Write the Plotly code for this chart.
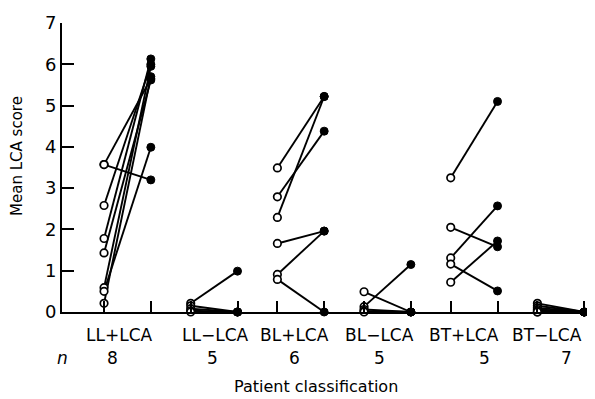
import plotly.graph_objects as go

# ---------------- data ----------------
categories = ["LL+LCA", "LL\u2212LCA", "BL+LCA", "BL\u2212LCA", "BT+LCA", "BT\u2212LCA"]
n_values = [8, 5, 6, 5, 5, 7]

ll_pos_before = [3.57, 3.57, 2.58, 1.78, 1.43, 0.59, 0.50, 0.21]
ll_pos_after = [3.20, 5.65, 6.00, 6.13, 5.62, 5.95, 3.99, 5.70]

ll_neg_before = [0.21, 0.15, 0.08, 0.03, 0.0]
ll_neg_after = [0.99, 0.0, 0.0, 0.0, 0.0]

bl_pos_before = [3.49, 2.79, 2.29, 1.66, 0.91, 0.79]
bl_pos_after = [5.22, 4.38, 5.22, 1.96, 1.96, 0.0]

bl_neg_before = [0.49, 0.13, 0.06, 0.02, 0.0]
bl_neg_after = [0.0, 1.15, 0.0, 0.0, 0.0]

bt_pos_before = [3.25, 2.05, 1.31, 1.16, 0.72]
bt_pos_after = [5.10, 1.58, 2.57, 0.51, 1.72]

bt_neg_before = [0.21, 0.15, 0.10, 0.06, 0.03, 0.0, 0.0]
bt_neg_after = [0.0, 0.0, 0.0, 0.0, 0.0, 0.0, 0.0]

before_groups = [ll_pos_before, ll_neg_before, bl_pos_before, bl_neg_before, bt_pos_before, bt_neg_before]
after_groups = [ll_pos_after, ll_neg_after, bl_pos_after, bl_neg_after, bt_pos_after, bt_neg_after]

# ---------------- layout helpers (positions, not data) ----------------
OPEN_OFF = -0.27
FILL_OFF = 0.27
label_shift = [-0.09, 0.02, -0.07, -0.09, -0.12, -0.16]
n_shift = [-0.17, -0.02, -0.07, -0.09, 0.12, 0.06]

fig = go.Figure()

line_x, line_y = [], []
open_x, open_y, fill_x, fill_y = [], [], [], []
for i, (bef, aft) in enumerate(zip(before_groups, after_groups)):
    for b, a in zip(bef, aft):
        line_x += [i + OPEN_OFF, i + FILL_OFF, None]
        line_y += [b, a, None]
        open_x.append(i + OPEN_OFF)
        open_y.append(b)
        fill_x.append(i + FILL_OFF)
        fill_y.append(a)

fig.add_trace(go.Scatter(x=line_x, y=line_y, mode="lines",
                         line=dict(color="black", width=1.9),
                         hoverinfo="skip", showlegend=False, cliponaxis=False))
fig.add_trace(go.Scatter(x=fill_x, y=fill_y, mode="markers",
                         marker=dict(symbol="circle", size=8, color="black",
                                     line=dict(color="black", width=1)),
                         showlegend=False, cliponaxis=False))
fig.add_trace(go.Scatter(x=open_x, y=open_y, mode="markers",
                         marker=dict(symbol="circle", size=7.5, color="white",
                                     line=dict(color="black", width=1.7)),
                         showlegend=False, cliponaxis=False))

tick_positions = []
for i in range(len(categories)):
    tick_positions += [i + OPEN_OFF, i + FILL_OFF]

FONT = "DejaVu Sans"

annotations = []
for i, (cat, n) in enumerate(zip(categories, n_values)):
    annotations.append(dict(x=i + label_shift[i], y=-0.080, xref="x", yref="paper",
                            text=cat, showarrow=False, xanchor="center", yanchor="middle",
                            font=dict(family=FONT, size=17, color="black")))
    annotations.append(dict(x=i + n_shift[i], y=-0.159, xref="x", yref="paper",
                            text=str(n), showarrow=False, xanchor="center", yanchor="middle",
                            font=dict(family=FONT, size=17, color="black")))
annotations.append(dict(x=0.0, y=-0.159, xref="paper", yref="paper",
                        text="<i>n</i>", showarrow=False, xanchor="center", yanchor="middle",
                        font=dict(family=FONT, size=17, color="black")))
annotations.append(dict(x=0.48, y=-0.258, xref="paper", yref="paper",
                        text="Patient classification", showarrow=False,
                        xanchor="center", yanchor="middle",
                        font=dict(family=FONT, size=16, color="black")))
annotations.append(dict(x=-0.085, y=0.54, xref="paper", yref="paper",
                        text="Mean LCA score", showarrow=False, textangle=-90,
                        xanchor="center", yanchor="middle",
                        font=dict(family=FONT, size=15, color="black")))

# page body has an 8px default margin, so the figure is sized/offset for it
fig.update_layout(
    width=587, height=391,
    margin=dict(l=54, r=3, t=15, b=87),
    paper_bgcolor="white", plot_bgcolor="white",
    font=dict(family=FONT, color="black"),
    annotations=annotations,
    xaxis=dict(range=[-0.755, 5.36], showline=True, linecolor="black", linewidth=2,
               ticks="inside", tickvals=tick_positions, ticklen=11, tickwidth=1.5,
               tickcolor="black", showticklabels=False, showgrid=False, zeroline=False),
    yaxis=dict(range=[0, 7], showline=True, linecolor="black", linewidth=2,
               ticks="inside", tickvals=list(range(0, 8)), ticklen=12, tickwidth=1.5,
               tickcolor="black", showgrid=False, zeroline=False,
               tickfont=dict(family=FONT, size=18, color="black")),
)

fig.write_html("out.html")
